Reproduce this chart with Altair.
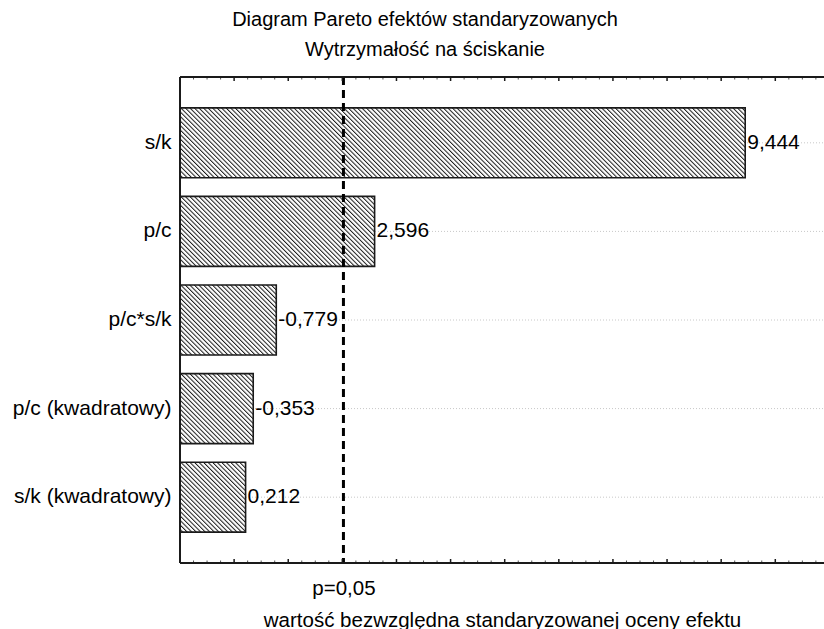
import altair as alt
import pandas as pd
import urllib.parse

# ---- data ----
categories = ["s/k", "p/c", "p/c*s/k", "p/c (kwadratowy)", "s/k (kwadratowy)"]
effects = [9.444, 2.596, -0.779, -0.353, 0.212]
p_crit = 2.02
p_label = "p=0,05"
x_min, x_max = -1.0, 10.9
major_ticks = [-1, 0, 1, 2, 3, 4, 5, 6, 7, 8, 9, 10]
minor_ticks = [m + q for m in major_ticks for q in (0.25, 0.5, 0.75)]

FONT = "Liberation Sans"
FS = 21
W, H = 644, 486

df = pd.DataFrame({
    "cat": categories,
    "effect": effects,
    "absval": [abs(v) for v in effects],
    "label": [f"{v:.3f}".replace(".", ",") for v in effects],
    "base": [x_min] * len(effects),
})
crit_df = pd.DataFrame({"p": [p_crit]})
major_df = pd.DataFrame({"t": major_ticks})
minor_df = pd.DataFrame({"t": minor_ticks})
one = pd.DataFrame({"d": [0]})

xscale = alt.Scale(domain=[x_min, x_max], nice=False, zero=False)
yscale = alt.Scale(domain=categories, paddingInner=0.21, paddingOuter=0.348)

xaxis = alt.Axis(
    values=[p_crit], labelExpr=f"'{p_label}'", ticks=False, domain=False, grid=False,
    labelFont=FONT, labelFontSize=20.5, labelColor="black", labelPadding=15,
    title="wartość bezwzględna standaryzowanej oceny efektu",
    titleFont=FONT, titleFontSize=20.5, titleFontWeight="normal", titleColor="black",
    titlePadding=12,
)
yaxis = alt.Axis(
    title=None, ticks=False, domain=False, grid=False, labelFont=FONT,
    labelFontSize=FS, labelColor="black", labelPadding=9,
)

# hatch pattern as an svg image tile (style only)
hatch_svg = (
    "<svg xmlns='http://www.w3.org/2000/svg' width='100%' height='100%'>"
    "<defs><pattern id='h' width='3.2' height='3.2' patternUnits='userSpaceOnUse' "
    "patternTransform='rotate(-45)'>"
    "<rect width='3.2' height='3.2' fill='white'/>"
    "<line x1='0.5' y1='0' x2='0.5' y2='3.2' stroke='#1a1a1a' stroke-width='1'/>"
    "</pattern></defs>"
    "<rect width='100%' height='100%' fill='url(#h)'/></svg>"
)
hatch_uri = "data:image/svg+xml;charset=utf-8," + urllib.parse.quote(hatch_svg)

base = alt.Chart(df)

grid = base.mark_rule(color="#c8c8c8", strokeDash=[1, 2], strokeWidth=1).encode(
    y=alt.Y("cat:N", sort=categories, scale=yscale, axis=yaxis),
    x=alt.value(0), x2=alt.value(W),
)

bar_fill = base.mark_bar(fill="#9a9a9a", stroke=None).encode(
    y=alt.Y("cat:N", sort=categories, scale=yscale, axis=yaxis),
    x=alt.X("absval:Q", scale=xscale, axis=xaxis),
    x2="base:Q",
)

hatch = base.mark_image(aspect=False).encode(
    y=alt.Y("cat:N", sort=categories, scale=yscale, axis=yaxis),
    x=alt.X("absval:Q", scale=xscale, axis=xaxis),
    x2="base:Q",
    url=alt.value(hatch_uri),
)

bar_stroke = base.mark_bar(fillOpacity=0, stroke="#1a1a1a", strokeWidth=1.6).encode(
    y=alt.Y("cat:N", sort=categories, scale=yscale, axis=yaxis),
    x=alt.X("absval:Q", scale=xscale, axis=xaxis),
    x2="base:Q",
)

labels = base.mark_text(align="left", baseline="middle", dx=2, font=FONT,
                        fontSize=FS, color="black").encode(
    y=alt.Y("cat:N", sort=categories, scale=yscale, axis=yaxis),
    x=alt.X("absval:Q", scale=xscale, axis=xaxis),
    text="label:N",
)

crit = alt.Chart(crit_df).mark_rule(color="black", strokeDash=[8, 5], strokeWidth=3).encode(
    x=alt.X("p:Q", scale=xscale, axis=xaxis),
)

frame_top = alt.Chart(one).mark_rule(color="#1a1a1a", strokeWidth=2).encode(
    x=alt.value(0), x2=alt.value(W), y=alt.value(0))
frame_bottom = alt.Chart(one).mark_rule(color="#1a1a1a", strokeWidth=2).encode(
    x=alt.value(0), x2=alt.value(W), y=alt.value(H))
frame_left = alt.Chart(one).mark_rule(color="#1a1a1a", strokeWidth=2).encode(
    x=alt.value(0), y=alt.value(0), y2=alt.value(H))

tick_major_b = alt.Chart(major_df).mark_rule(color="#1a1a1a", strokeWidth=1.5).encode(
    x=alt.X("t:Q", scale=xscale, axis=xaxis), y=alt.value(H - 4), y2=alt.value(H))
tick_major_t = alt.Chart(major_df).mark_rule(color="#1a1a1a", strokeWidth=1.5).encode(
    x=alt.X("t:Q", scale=xscale, axis=xaxis), y=alt.value(0), y2=alt.value(4))
tick_minor_b = alt.Chart(minor_df).mark_rule(color="#555555", strokeWidth=1).encode(
    x=alt.X("t:Q", scale=xscale, axis=xaxis), y=alt.value(H - 2.5), y2=alt.value(H))
tick_minor_t = alt.Chart(minor_df).mark_rule(color="#555555", strokeWidth=1).encode(
    x=alt.X("t:Q", scale=xscale, axis=xaxis), y=alt.value(0), y2=alt.value(2.5))

chart = alt.layer(
    grid, bar_fill, hatch, bar_stroke, labels, crit,
    tick_major_b, tick_major_t, tick_minor_b, tick_minor_t,
    frame_top, frame_bottom, frame_left,
).properties(
    width=W, height=H,
    padding={"left": 180, "top": 77, "right": 0, "bottom": 66},
    autosize=alt.AutoSizeParams(type="none"),
    title=alt.Title(
        ["Diagram Pareto efektów standaryzowanych", "Wytrzymałość na ściskanie"],
        font=FONT, fontSize=20, fontWeight="normal", color="black",
        anchor="middle", dx=-77, offset=16, lineHeight=30,
    ),
).configure_view(strokeWidth=0).configure(background="white")

chart.save("out.html", embed_options={"renderer": "svg", "actions": False})
